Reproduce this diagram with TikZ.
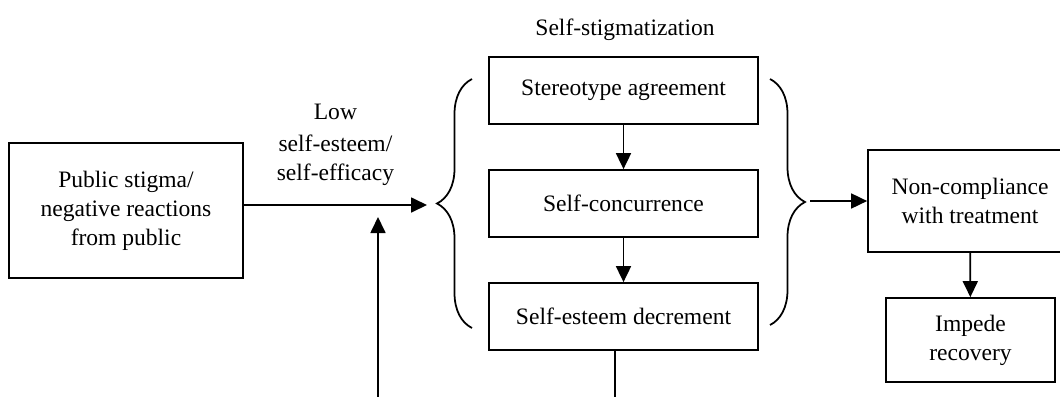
\documentclass[tikz,border=0pt]{standalone}
\usepackage{fontspec}
\setmainfont{Liberation Serif}
\usetikzlibrary{arrows.meta,decorations.pathreplacing}

\begin{document}
\begin{tikzpicture}[x=0.02cm,y=-0.02cm,>={Triangle[length=0.32cm,width=0.3cm]},line width=1pt,txt/.style={font=\fontsize{13.4}{16.5}\selectfont, align=center},box/.style={txt, draw, inner sep=0pt},stagebox/.style={box, minimum width=5.38cm, minimum height=1.34cm},curly/.style={decorate, decoration={brace, amplitude=0.7cm}},link/.style={->}]
\clip (0,0) rectangle (1060,396);
\node[box, minimum width=4.68cm, minimum height=2.7cm] (public) at (126,210.5) {Public stigma/\\negative reactions\\from public};
\node[txt] (title) at (625,30) {Self-stigmatization};
\node[stagebox] (stereo) at (623.5,90.5) {Stereotype agreement};
\node[stagebox] (concur) at (623.5,203.5) {Self-concurrence};
\node[stagebox] (decrement) at (623.5,316.5) {Self-esteem decrement};
\node[box, minimum width=4.08cm, minimum height=2.04cm] (noncomp) at (970,201) {Non-compliance\\with treatment};
\node[box, minimum width=3.38cm, minimum height=1.68cm] (impede) at (970.5,340) {Impede\\recovery};
\coordinate (ltip) at (427,205); \coordinate (rtip) at (810,201);
\coordinate (fbtip) at (378,217); \coordinate (loopL) at (378,400); \coordinate (loopR) at (615,400);
% braces round the three stages
\draw[curly] (472,328) -- (472,79);
\draw[curly] (770,79) -- (770,325);
\draw[link] (public.east |- ltip) -- (ltip) node[midway, above=0.25cm, txt] {Low\\[2pt]self-esteem/\\self-efficacy};
\draw[link] (stereo) -- (concur);
\draw[link] (concur) -- (decrement);
\draw[link] (rtip) -- (noncomp.west);
\draw[link] (noncomp) -- (impede);
% feedback line, cut off at the lower edge
\draw (decrement.south -| loopR) -- (loopR);
\draw[link] (loopL) -- (fbtip);
\end{tikzpicture}
\end{document}
